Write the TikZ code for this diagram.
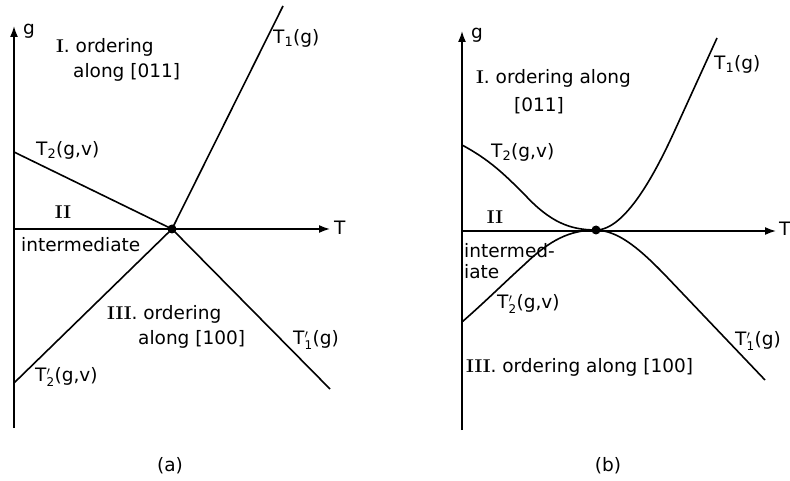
\documentclass[tikz,border=0pt]{standalone}
\usepackage{fontspec}
\setsansfont{DejaVu Sans}
\usetikzlibrary{arrows.meta}
\newcommand\Tsb[1]{T\textsubscript{#1}}
\newcommand\Tpr[1]{T$'_{\hbox{\sffamily\fontsize{12}{12}\selectfont #1}}$}
\newcommand\rn[1]{{\rmfamily\bfseries #1}}
\tikzset{
  lbl/.style={inner sep=0pt, font=\sffamily\fontsize{18.5}{20}\selectfont},
  lblw/.style={lbl, anchor=west},
  axis/.style={line width=1.6pt, -{Latex[length=11pt,width=8pt]}},
  curve/.style={line width=1.6pt},
  pt/.style={circle, fill=black, inner sep=0pt, minimum size=9pt}
}
\begin{document}
\begin{tikzpicture}[x=1pt,y=-1pt]
\useasboundingbox (0,0) rectangle (790,481);
% ---------- panel (a) ----------
\coordinate (aO) at (14,229);
\coordinate (aYb) at (14,428);
\coordinate (aYt) at (14,26);
\coordinate (aXt) at (330,229);
\node[pt] (aP) at (172,229) {};
\coordinate (aT1) at (283,6);
\coordinate (aT2) at (14,152);
\coordinate (aT2p) at (14,383);
\coordinate (aT1p) at (330,389);
\draw[axis] (aYb) -- (aYt);
\draw[axis] (aO) -- (aXt);
\draw[curve] (aP.center) -- (aT1);
\draw[curve] (aT2) -- (aP.center);
\draw[curve] (aT2p) -- (aP.center);
\draw[curve] (aP.center) -- (aT1p);
\node[lbl] (ag) at (29,31) {g};
\node[lblw] (aT) at (334,228) {T};
\node[lblw] (aI1) at (56,47) {\rn{I}. ordering};
\node[lblw] (aI2) at (73,72) {along [011]};
\node[lblw] (aT1l) at (273,38) {\Tsb{1}(g)};
\node[lblw] (aT2l) at (36,150) {\Tsb{2}(g,v)};
\node[lbl] (aII) at (63,212) {\rn{II}};
\node[lblw] (aint) at (21,245) {intermediate};
\node[lblw] (aIII1) at (107,314) {\rn{III}. ordering};
\node[lblw] (aIII2) at (138,339) {along [100]};
\node[lblw] (aT1pl) at (293,340) {\Tpr{1}(g)};
\node[lblw] (aT2pl) at (35,377) {\Tpr{2}(g,v)};
\node[lbl] (acap) at (170,466) {(a)};
% ---------- panel (b) ----------
\coordinate (bO) at (462,231);
\coordinate (bYb) at (462,430);
\coordinate (bYt) at (462,31);
\coordinate (bXt) at (776,231);
\node[pt] (bP) at (596,230) {};
\coordinate (bT1) at (717,38);
\coordinate (bT2) at (462,145);
\coordinate (bT2p) at (462,322);
\coordinate (bT1p) at (765,380);
\draw[axis] (bYb) -- (bYt);
\draw[axis] (bO) -- (bXt);
\draw[curve] (bP.center) .. controls (625,230) and (655,174) .. (675,130) -- (bT1);
\draw[curve] (bT2) .. controls (490,160) and (505,175) .. (525,195)
   .. controls (550,222) and (570,230) .. (bP.center);
\draw[curve] (bT2p) .. controls (485,302) and (505,282) .. (525,264)
   .. controls (550,240) and (570,230) .. (bP.center);
\draw[curve] (bP.center) .. controls (617,231) and (636,245) .. (665,275) -- (bT1p);
\node[lbl] (bg) at (477,35) {g};
\node[lblw] (bT) at (779,229) {T};
\node[lblw] (bI1) at (476,78) {\rn{I}. ordering along};
\node[lblw] (bI2) at (514,106) {[011]};
\node[lblw] (bT1l) at (714,64) {\Tsb{1}(g)};
\node[lblw] (bT2l) at (491,152) {\Tsb{2}(g,v)};
\node[lbl] (bII) at (495,217) {\rn{II}};
\node[lblw] (bint1) at (464,251) {intermed-};
\node[lblw] (bint2) at (464,272) {iate};
\node[lblw] (bT2pl) at (497,304) {\Tpr{2}(g,v)};
\node[lblw] (bT1pl) at (735,341) {\Tpr{1}(g)};
\node[lblw] (bIII) at (466,367) {\rn{III}. ordering along [100]};
\node[lbl] (bcap) at (608,466) {(b)};
\end{tikzpicture}
\end{document}
